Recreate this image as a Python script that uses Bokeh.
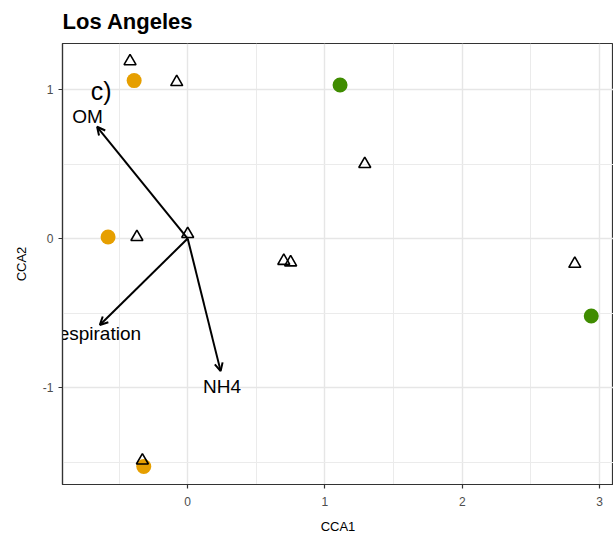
from bokeh.plotting import figure
from bokeh.models import Range1d, FixedTicker, Arrow, OpenHead, ColumnDataSource
from bokeh.core.properties import value
from bokeh.embed import file_html
from bokeh.resources import INLINE

FONT = "Liberation Sans"

# Site scores (open triangles)
site_x = [-0.42, -0.08, -0.37, 0.00, 0.70, 0.75, 1.29, 2.82, -0.33]
site_y = [1.19, 1.05, 0.01, 0.03, -0.15, -0.16, 0.50, -0.17, -1.49]

# Sample scores by group
orange_x = [-0.39, -0.58, -0.32]
orange_y = [1.06, 0.01, -1.53]
green_x = [1.11, 2.94]
green_y = [1.03, -0.52]

# Environmental vectors (biplot arrows)
env_names = ["OM", "Respiration", "NH4"]
env_x = [-0.66, -0.64, 0.24]
env_y = [0.75, -0.58, -0.89]
env_label_x = [-0.73, -0.69, 0.25]
env_label_y = [0.82, -0.64, -0.99]

x_ticks = [0, 1, 2, 3]
x_minor = [-0.5, 0.5, 1.5, 2.5]
y_ticks = [-1, 0, 1]
y_minor = [-1.5, -0.5, 0.5]

p = figure(width=613, height=540, output_backend="svg", toolbar_location=None,
           x_range=Range1d(-0.912, 3.102), y_range=Range1d(-1.651, 1.309),
           min_border_left=62, min_border_right=0, min_border_top=43,
           min_border_bottom=56, background_fill_color="white",
           border_fill_color="white")

p.title.text = "Los Angeles"
p.title.text_font = FONT
p.title.text_font_size = "22px"
p.title.text_font_style = "bold"
p.title.align = "left"
p.title.text_color = "black"
p.title.vertical_align = "top"
p.title.standoff = 15

p.outline_line_color = "#333333"
p.outline_line_width = 1.2

for ax, lab in ((p.xaxis[0], "CCA1"), (p.yaxis[0], "CCA2")):
    ax.axis_label = lab
    ax.axis_label_text_font = FONT
    ax.axis_label_text_font_size = "13px"
    ax.axis_label_text_font_style = "normal"
    ax.axis_label_text_color = "black"
    ax.major_label_text_font = FONT
    ax.major_label_text_font_size = "12px"
    ax.major_label_text_color = "#4d4d4d"
    ax.axis_line_color = "#333333"
    ax.axis_line_width = 1.2
    ax.major_tick_line_color = "#333333"
    ax.major_tick_line_width = 1.2
    ax.major_tick_in = 0
    ax.major_tick_out = 4
    ax.minor_tick_line_color = None

p.xaxis.major_label_standoff = 8
p.xaxis.axis_label_standoff = 10
p.yaxis.major_label_standoff = 5
p.yaxis.axis_label_standoff = 11

p.xaxis.ticker = FixedTicker(ticks=x_ticks, minor_ticks=x_minor)
p.yaxis.ticker = FixedTicker(ticks=y_ticks, minor_ticks=y_minor)
p.yaxis.major_label_overrides = {t: str(t) for t in y_ticks}

for g in (p.xgrid[0], p.ygrid[0]):
    g.grid_line_color = "#e6e6e6"
    g.grid_line_width = 1.4
    g.minor_grid_line_color = "#ebebeb"
    g.minor_grid_line_width = 1.0

# sample groups
p.scatter(orange_x, orange_y, size=15, fill_color="#E69F00", line_color=None)
p.scatter(green_x, green_y, size=15, fill_color="#3f8c00", line_color=None)

# sites
p.scatter(site_x, site_y, marker="triangle", size=12, fill_color=None,
          line_color="black", line_width=1.6)

# environmental arrows
arrow_src = ColumnDataSource(dict(x0=[0] * len(env_x), y0=[0] * len(env_y),
                                  x1=env_x, y1=env_y))
p.add_layout(Arrow(source=arrow_src, x_start="x0", y_start="y0", x_end="x1",
                   y_end="y1", line_color="black", line_width=2,
                   end=OpenHead(size=8, line_width=2, line_color="black")))

p.text(env_label_x, env_label_y, text=env_names, text_font=value(FONT),
       text_font_size="19px", text_align="center", text_baseline="middle",
       text_color="black")

p.text([-0.63], [0.99], text=["c)"], text_font=value(FONT),
       text_font_size="25px", text_align="center", text_baseline="middle",
       text_color="black")

open("out.html", "w").write(file_html(p, INLINE))
